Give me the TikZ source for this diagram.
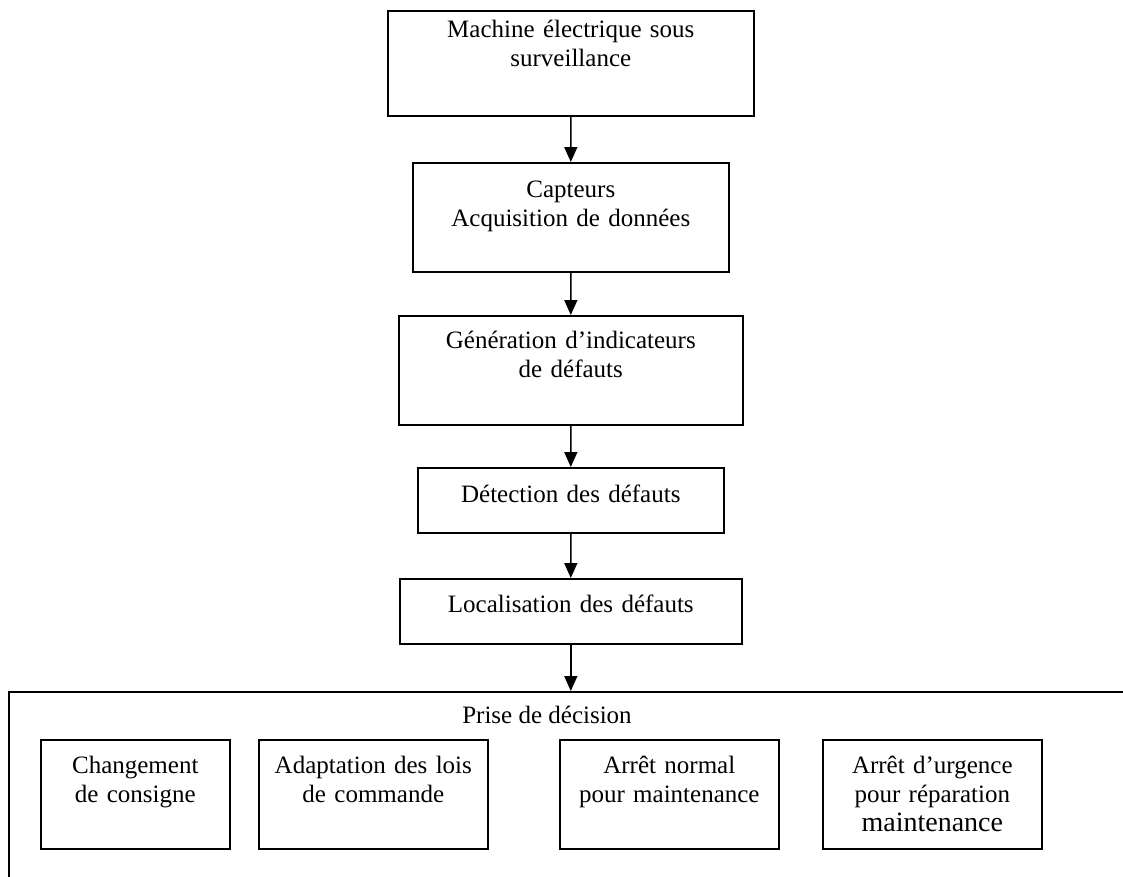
\documentclass[tikz,border=0pt]{standalone}
\usepackage{fontspec}
\setmainfont{Liberation Serif}
\usetikzlibrary{arrows.meta}

\tikzset{
  blk/.style={draw, line width=1.6bp, anchor=north west, inner sep=0pt, align=center},
  cadre/.style={draw, line width=1.6bp, anchor=north west, inner sep=0pt},
  fleche/.style={line width=1.6bp, -{Triangle[length=15bp,width=13bp]}}
}

\begin{document}
\begin{tikzpicture}[x=1bp, y=-1bp, font=\fontsize{25bp}{29bp}\selectfont]
    \clip (0,0) rectangle (1123,877);

    % Chaine de surveillance
    \node[blk, text width=366bp, text height=27bp, text depth=78bp] (machine) at (387,10) {Machine électrique sous\\surveillance};
    \node[blk, text width=316bp, text height=35bp, text depth=74bp] (capteurs) at (412,162) {Capteurs\\Acquisition de données};
    \node[blk, text width=344bp, text height=33bp, text depth=76bp] (generation) at (398,315) {Génération d’indicateurs\\de défauts};
    \node[blk, text width=306bp, text height=35bp, text depth=30bp] (detection) at (417,467) {Détection des défauts};
    \node[blk, text width=342bp, text height=34bp, text depth=31bp] (localisation) at (399,578) {Localisation des défauts};

    % Cadre de la prise de decision
    \node[cadre, minimum width=1140bp, minimum height=200bp] (decision) at (8,691) {};
    \node[anchor=base] (prise) at (547,723) {Prise de décision};

    % Actions possibles
    \node[blk, text width=189bp, text height=34bp, text depth=75bp] (consigne) at (40,739) {Changement\\de consigne};
    \node[blk, text width=229bp, text height=34bp, text depth=75bp] (commande) at (258,739) {Adaptation des lois\\de commande};
    \node[blk, text width=219bp, text height=34bp, text depth=75bp] (normal) at (559,739) {Arrêt normal\\pour maintenance};
    \node[blk, text width=219bp, text height=34bp, text depth=75bp] (urgence) at (822,739) {Arrêt d’urgence\\pour réparation\\{\fontsize{28bp}{31bp}\selectfont maintenance}};

    % Fleches
    \draw[fleche] (machine.south) -- (capteurs.north);
    \draw[fleche] (capteurs.south) -- (generation.north);
    \draw[fleche] (generation.south) -- (detection.north);
    \draw[fleche] (detection.south) -- (localisation.north);
    \draw[fleche] (localisation.south) -- (localisation.south |- decision.north);

\end{tikzpicture}
\end{document}
